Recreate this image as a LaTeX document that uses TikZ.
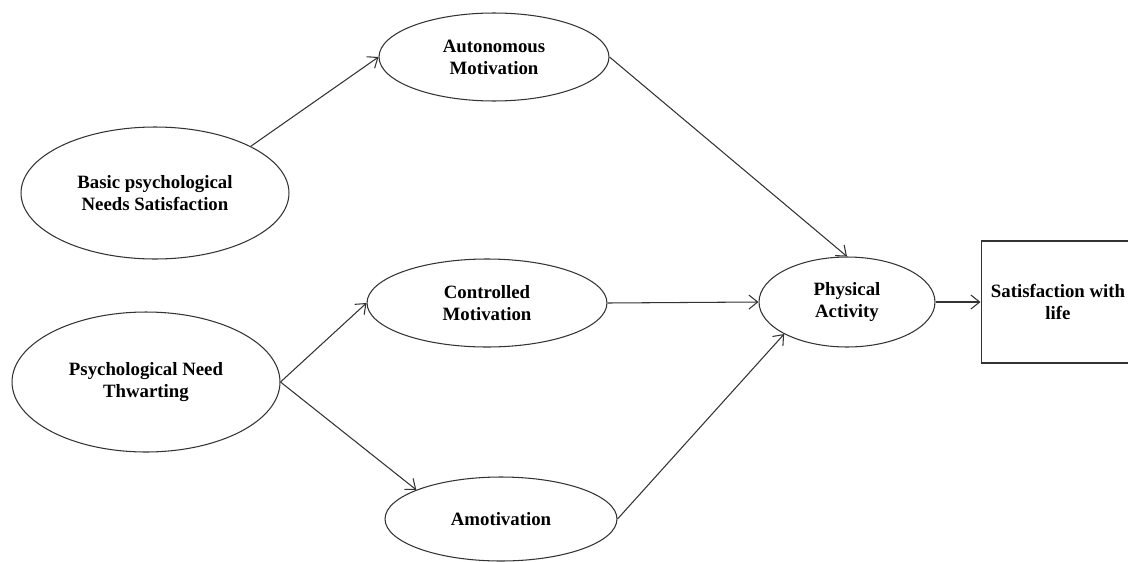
\documentclass[tikz,border=0pt]{standalone}
\usepackage{fontspec}
\setmainfont{Liberation Serif}
\usetikzlibrary{shapes.geometric, arrows.meta}

\begin{document}
\begin{tikzpicture}[x=0.02cm, y=-0.02cm,
	latent/.style={ellipse, draw=black!80, line width=0.6pt, inner sep=0pt, align=center,
		font=\fontsize{10.7}{12.5}\selectfont\bfseries},
	observed/.style={rectangle, draw=black!80, line width=0.6pt, inner sep=0pt, align=center,
		font=\fontsize{10.7}{12.5}\selectfont\bfseries},
	path/.style={draw=black!80, line width=0.6pt, -{Straight Barb[length=5pt,width=8pt]}}]
	\clip (0,0) rectangle (1128,561);

	\node [latent, minimum width=5.36cm, minimum height=2.64cm] (basic) at (155,193) {Basic psychological\\Needs Satisfaction};
	\node [latent, minimum width=5.36cm, minimum height=2.8cm] (thwart) at (146,382) {Psychological Need\\Thwarting};

	\node [latent, minimum width=4.6cm, minimum height=1.76cm] (auton) at (494,57) {Autonomous\\Motivation};
	\node [latent, minimum width=4.8cm, minimum height=1.76cm] (control) at (487,303) {Controlled\\Motivation};
	\node [latent, minimum width=4.64cm, minimum height=1.68cm] (amot) at (501,519) {Amotivation};

	\node [latent, minimum width=3.52cm, minimum height=1.8cm] (activity) at (847,302) {Physical\\Activity};
	\node [observed, minimum width=3.08cm, minimum height=2.44cm] (life) at (1058,302) {Satisfaction with\\life};

	\draw [path] (basic.26) -- (auton.west);
	\draw [path] (thwart.east) -- (control.west);
	\draw [path] (thwart.east) -- (amot.161);

	\draw [path] (auton.east) -- (activity.north);
	\draw [path] (control.east) -- (activity.west);
	\draw [path] (amot.east) -- (activity.207);

	\draw [path] (activity.east) -- (life.west);
\end{tikzpicture}
\end{document}
